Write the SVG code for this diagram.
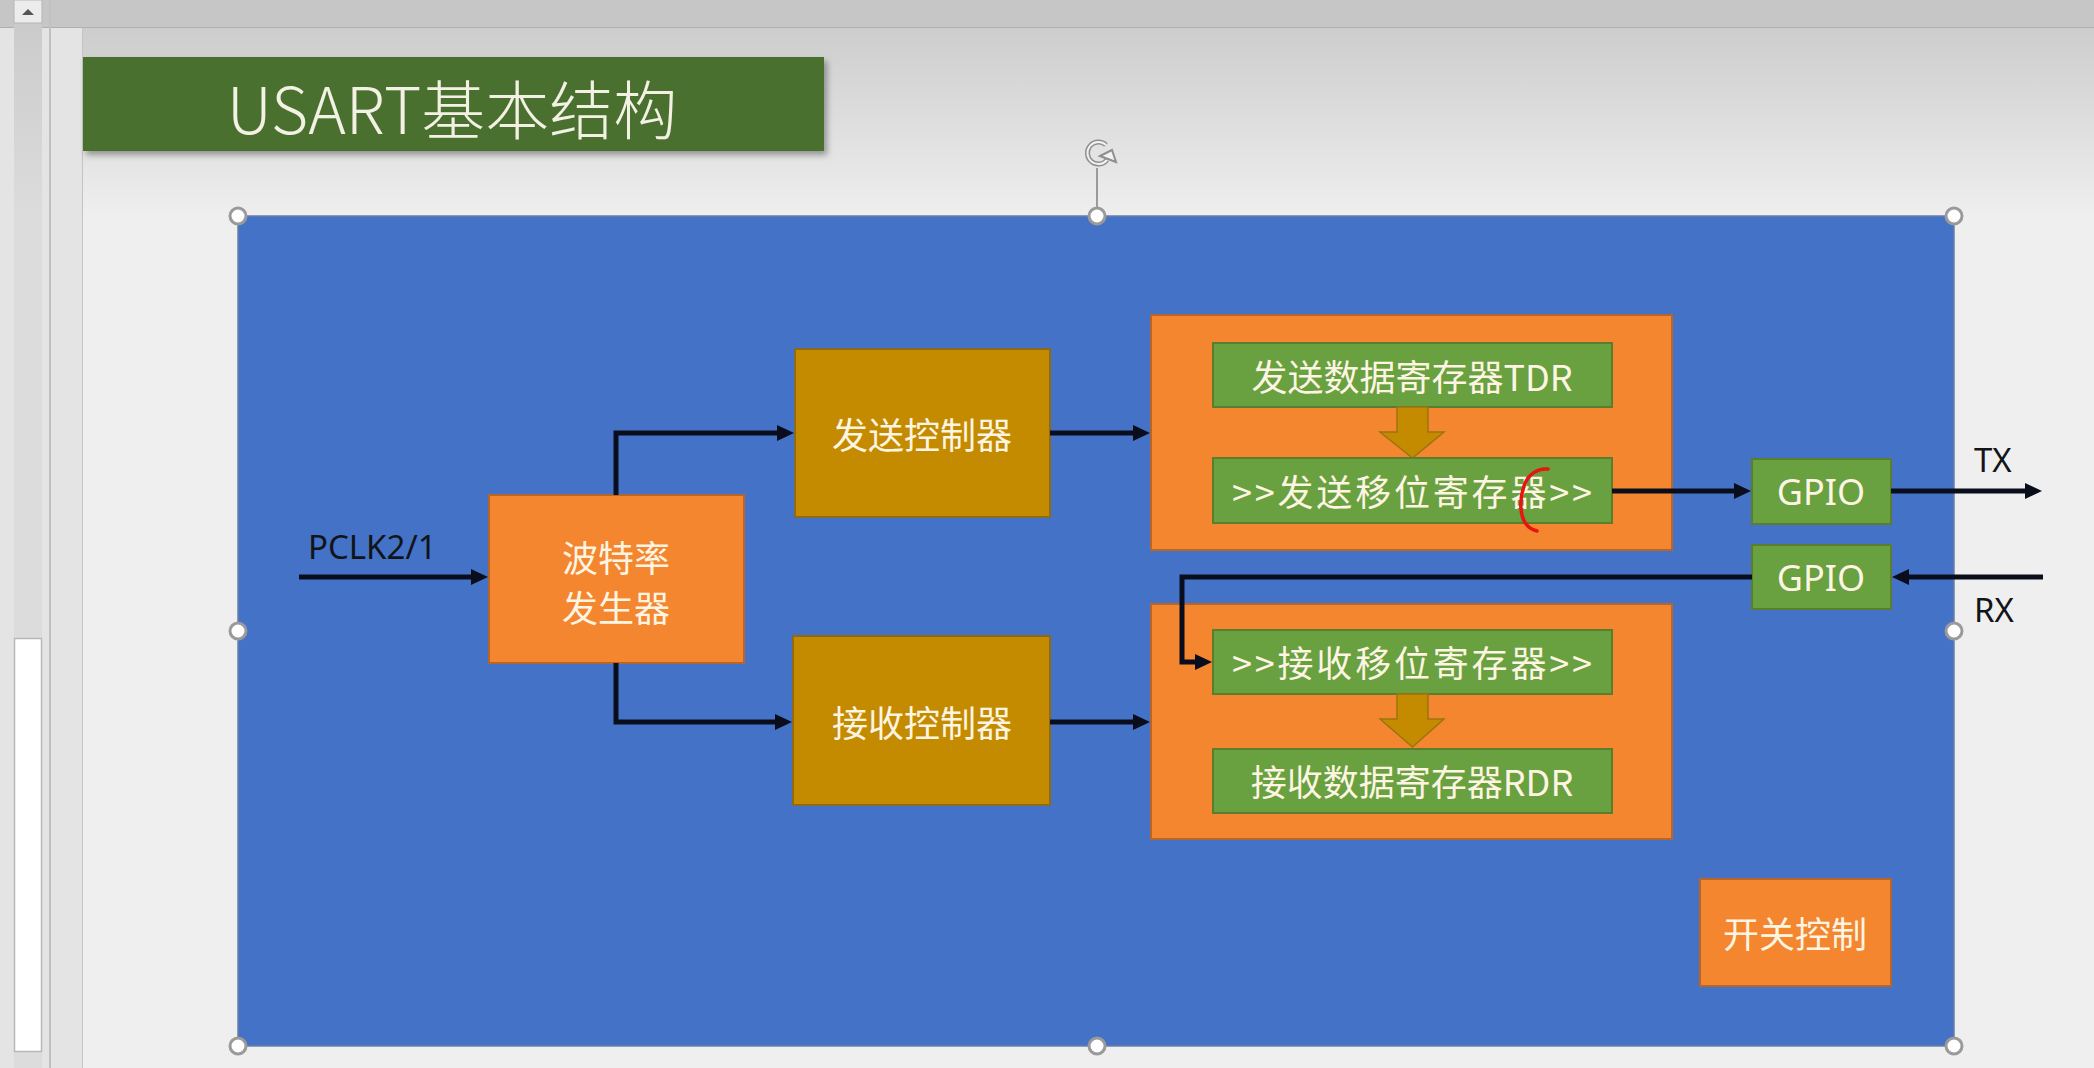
<svg xmlns="http://www.w3.org/2000/svg" width="2094" height="1068" viewBox="0 0 2094 1068">
  <defs>
    <linearGradient id="slideGrad" x1="0" y1="0" x2="0" y2="1">
      <stop offset="0" stop-color="#cdcdcd"/>
      <stop offset="1" stop-color="#efefef"/>
    </linearGradient>
    <linearGradient id="trackGrad" x1="0" y1="0" x2="0" y2="1">
      <stop offset="0" stop-color="#c9c9c9"/>
      <stop offset="0.2" stop-color="#dcdcdc"/>
      <stop offset="1" stop-color="#dcdcdc"/>
    </linearGradient>
    <filter id="shadow" x="-5%" y="-10%" width="115%" height="130%">
      <feDropShadow dx="3" dy="4" stdDeviation="3" flood-color="#000" flood-opacity="0.35"/>
    </filter>
    <marker id="arrow" markerUnits="userSpaceOnUse" markerWidth="17" markerHeight="16" refX="9" refY="8" orient="auto">
      <path d="M0,0 L17,8 L0,16 z" fill="#0a0d1c"/>
    </marker>
    <style>
      .cjk { font-family: "Noto Sans CJK SC", "Noto Sans", sans-serif; }
      .lat { font-family: "Noto Sans", "Noto Sans CJK SC", sans-serif; }
      .boxtext { fill: #fdf5e2; font-size: 36px; text-anchor: middle; dominant-baseline: central; }
      .orange { fill: #f4862f; stroke: #b8652a; stroke-width: 2; }
      .gold { fill: #c48b00; stroke: #8c6a1a; stroke-width: 2; }
      .green { fill: #69a040; stroke: #5a7d2e; stroke-width: 2; }
      .conn { fill: none; stroke: #0a0d1c; stroke-width: 5; marker-end: url(#arrow); }
      .handle { fill: #ffffff; stroke: #9a9a9a; stroke-width: 3; }
      .blockarrow { fill: #c48b00; stroke: #9a7410; stroke-width: 1.5; }
      .label { fill: #111418; font-size: 33px; }
    </style>
  </defs>

  <!-- application chrome -->
  <rect x="0" y="0" width="2094" height="1068" fill="#e4e4e4"/>
  <rect x="0" y="0" width="2094" height="28" fill="#c6c6c6"/>
  <line x1="0" y1="27.5" x2="2094" y2="27.5" stroke="#b0b0b0" stroke-width="1"/>
  <rect x="82" y="28" width="2012" height="1040" fill="#efefef"/>
  <rect x="82" y="28" width="2012" height="190" fill="url(#slideGrad)"/>
  <line x1="82.5" y1="28" x2="82.5" y2="1068" stroke="#c4c4c4" stroke-width="1"/>
  <!-- scrollbar -->
  <rect x="14" y="0" width="28" height="1068" fill="url(#trackGrad)"/>
  <rect x="14" y="0" width="28" height="23" fill="#ececec" stroke="#b5b5b5" stroke-width="1"/>
  <path d="M22,15 L28,9 L34,15 z" fill="#555"/>
  <rect x="14.5" y="638.5" width="27" height="413" fill="#ffffff" stroke="#b8b8b8" stroke-width="1.5"/>
  <line x1="50" y1="0" x2="50" y2="1068" stroke="#c0c0c0" stroke-width="2"/>

  <!-- title -->
  <g id="title">
    <rect x="83" y="57" width="741" height="94" fill="#4a702f" filter="url(#shadow)"/>
    <text x="452" y="106" class="cjk" font-size="64" fill="#f3f1e4" text-anchor="middle" dominant-baseline="central" font-weight="300">USART基本结构</text>
  </g>

  <!-- main container -->
  <g id="usart-container">
    <rect x="238" y="216" width="1716" height="830" fill="#4472c6" stroke="#6c7fa6" stroke-width="1.5"/>
  </g>

  <!-- nodes -->
  <g id="baud-generator">
    <rect class="orange" x="489" y="495" width="255" height="168"/>
    <text class="cjk boxtext" x="616" y="556" font-size="34"><tspan x="616" y="556">波特率</tspan><tspan x="616" y="606">发生器</tspan></text>
  </g>
  <g id="tx-controller">
    <rect class="gold" x="795" y="349" width="255" height="168"/>
    <text class="cjk boxtext" x="922" y="433">发送控制器</text>
  </g>
  <g id="rx-controller">
    <rect class="gold" x="793" y="636" width="257" height="169"/>
    <text class="cjk boxtext" x="922" y="721">接收控制器</text>
  </g>

  <g id="tx-block">
    <rect class="orange" x="1151" y="315" width="521" height="235"/>
  </g>
  <g id="tdr">
    <rect class="green" x="1213" y="343" width="399" height="64"/>
    <text class="cjk boxtext" x="1412" y="375">发送数据寄存器TDR</text>
  </g>
  <g id="tx-transfer-arrow">
    <path class="blockarrow" d="M1397,407 H1428 V432 H1444 L1412.5,458 L1380,432 H1397 Z"/>
  </g>
  <g id="tx-shift">
    <rect class="green" x="1213" y="458" width="399" height="65"/>
    <text class="cjk boxtext" x="1412" y="490" textLength="360" lengthAdjust="spacing">&gt;&gt;发送移位寄存器&gt;&gt;</text>
  </g>

  <g id="rx-block">
    <rect class="orange" x="1151" y="604" width="521" height="235"/>
  </g>
  <g id="rx-shift">
    <rect class="green" x="1213" y="630" width="399" height="64"/>
    <text class="cjk boxtext" x="1412" y="661" textLength="360" lengthAdjust="spacing">&gt;&gt;接收移位寄存器&gt;&gt;</text>
  </g>
  <g id="rx-transfer-arrow">
    <path class="blockarrow" d="M1397,694 H1428 V719 H1444 L1412.5,747 L1380,719 H1397 Z"/>
  </g>
  <g id="rdr">
    <rect class="green" x="1213" y="749" width="399" height="64"/>
    <text class="cjk boxtext" x="1412" y="780">接收数据寄存器RDR</text>
  </g>

  <g id="gpio-tx">
    <rect class="green" x="1752" y="459" width="139" height="65"/>
    <text class="lat boxtext" x="1821" y="491" font-size="34">GPIO</text>
  </g>
  <g id="gpio-rx">
    <rect class="green" x="1752" y="545" width="139" height="64"/>
    <text class="lat boxtext" x="1821" y="577" font-size="34">GPIO</text>
  </g>
  <g id="switch-control">
    <rect class="orange" x="1700" y="879" width="191" height="107"/>
    <text class="cjk boxtext" x="1795" y="932">开关控制</text>
  </g>

  <!-- labels -->
  <g id="labels">
    <text class="lat label" x="308" y="559" fill="#0b1430">PCLK2/1</text>
    <text class="lat label" x="1974" y="472">TX</text>
    <text class="lat label" x="1974" y="622">RX</text>
  </g>

  <!-- connectors -->
  <g id="connectors">
    <path class="conn" d="M299,577 H480"/>
    <path class="conn" d="M616,495 V433 H786"/>
    <path class="conn" d="M616,663 V722 H784"/>
    <path class="conn" d="M1050,433 H1142"/>
    <path class="conn" d="M1050,722 H1142"/>
    <path class="conn" d="M1612,491 H1743"/>
    <path class="conn" d="M1891,491 H2034"/>
    <path class="conn" d="M2043,577 H1900"/>
    <path class="conn" d="M1752,577 H1182 V662 H1204"/>
  </g>

  <!-- pen annotation -->
  <path d="M1548,469 C1538,468 1528,474 1524,486 C1519,500 1520,516 1526,524 C1529,528 1533,530 1537,531" fill="none" stroke="#e8140f" stroke-width="3.5" stroke-linecap="round"/>

  <!-- selection handles -->
  <g id="selection">
    <line x1="1097" y1="168" x2="1097" y2="216" stroke="#9a9a9a" stroke-width="2"/>
    <path d="M1107,160 A11,11 0 1 1 1106,145" fill="none" stroke="#8f8f8f" stroke-width="5"/>
    <path d="M1107,160 A11,11 0 1 1 1106,145" fill="none" stroke="#f2f2f2" stroke-width="2"/>
    <path d="M1100,156 L1112,150 L1116,162 Z" fill="#f2f2f2" stroke="#8f8f8f" stroke-width="2"/>
    <circle class="handle" cx="238" cy="216" r="8"/>
    <circle class="handle" cx="1097" cy="216" r="8"/>
    <circle class="handle" cx="1954" cy="216" r="8"/>
    <circle class="handle" cx="238" cy="631" r="8"/>
    <circle class="handle" cx="1954" cy="631" r="8"/>
    <circle class="handle" cx="238" cy="1046" r="8"/>
    <circle class="handle" cx="1097" cy="1046" r="8"/>
    <circle class="handle" cx="1954" cy="1046" r="8"/>
  </g>
</svg>
